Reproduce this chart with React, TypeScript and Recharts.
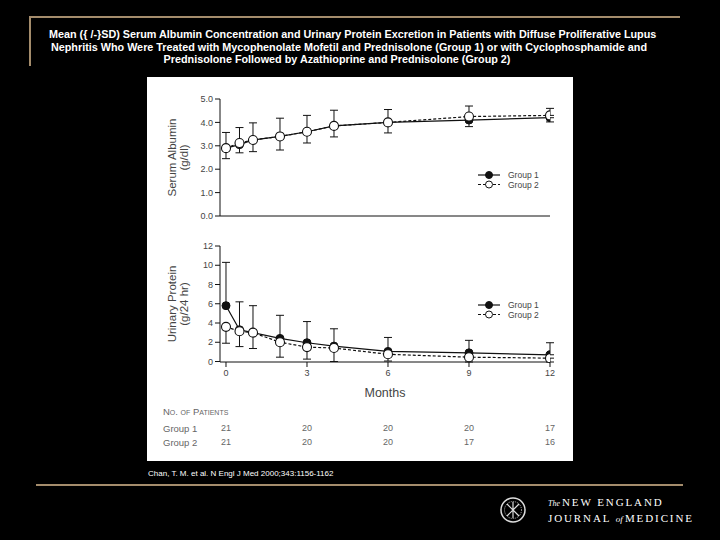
import { LineChart, Line, XAxis, YAxis, ErrorBar, Legend, Label } from 'recharts';

const months = [0, 0.5, 1, 2, 3, 4, 6, 9, 12];
const monthTicks = [0, 3, 6, 9, 12];

// serum albumin, g/dl
const albuminGroup1 = [2.9, 3.05, 3.25, 3.4, 3.6, 3.85, 4.0, 4.1, 4.2];
const albuminGroup2 = [2.9, 3.12, 3.25, 3.4, 3.6, 3.85, 4.0, 4.25, 4.3];
const albuminSdGroup1 = [0.45, 0.35, 0.5, 0.58, 0.48, 0.47, 0.45, 0.28, 0.18]; // drawn down
const albuminSdGroup2 = [0.67, 0.66, 0.73, 0.78, 0.7, 0.67, 0.55, 0.45, 0.3]; // drawn up

// urinary protein, g/24 hr
const proteinGroup1 = [5.8, 3.3, 3.0, 2.4, 1.95, 1.6, 1.05, 0.9, 0.7];
const proteinGroup2 = [3.6, 3.15, 3.0, 2.0, 1.5, 1.4, 0.75, 0.45, 0.35];
const proteinSdGroup1 = [4.5, 2.9, 2.8, 2.4, 2.2, 1.8, 1.45, 1.3, 1.25]; // drawn up
const proteinSdGroup2 = [1.7, 1.6, 1.65, 1.55, 1.25, 1.4, 0.7, 0.5, 0.4]; // drawn down

const patientsGroup1 = [21, 20, 20, 20, 17];
const patientsGroup2 = [21, 20, 20, 17, 16];

const albuminTicks = [0, 1, 2, 3, 4, 5];
const proteinTicks = [0, 2, 4, 6, 8, 10, 12];

const titleLines = [
  'Mean ({ /-}SD) Serum Albumin Concentration and Urinary Protein Excretion in Patients with Diffuse Proliferative Lupus',
  'Nephritis Who Were Treated with Mycophenolate Mofetil and Prednisolone (Group 1) or with Cyclophosphamide and',
  'Prednisolone Followed by Azathioprine and Prednisolone (Group 2)',
];
const citation = 'Chan, T. M. et al. N Engl J Med 2000;343:1156-1162';

const albuminData = months.map((m, i) => ({
  month: m,
  g1: albuminGroup1[i],
  g2: albuminGroup2[i],
  e1: [albuminSdGroup1[i], 0],
  e2: [0, albuminSdGroup2[i]],
}));

const proteinData = months.map((m, i) => ({
  month: m,
  g1: proteinGroup1[i],
  g2: proteinGroup2[i],
  e1: [0, proteinSdGroup1[i]],
  e2: [proteinSdGroup2[i], 0],
}));

const INK = '#111';
const GREY = '#444';
const TAN = '#a48c6c';
const FONT = '"Liberation Sans", Arial, Helvetica, sans-serif';
const SERIF = '"Liberation Serif", "Times New Roman", serif';
const X_DOMAIN: [number, number] = [-0.222, 12];

const renderLegend = (props: any) => {
  const payload = props.payload || [];
  return (
    <svg width={95} height={22} style={{ display: 'block' }}>
      {payload.map((entry: any, i: number) => {
        const y = 6 + i * 9.5;
        const open = i === 1;
        return (
          <g key={entry.value}>
            <line x1={3} x2={25} y1={y} y2={y} stroke={INK} strokeWidth={1.2} strokeDasharray={open ? '3 2' : undefined} />
            <circle cx={14} cy={y} r={3.5} fill={open ? '#fff' : INK} stroke={INK} strokeWidth={1} />
            <text x={33} y={y} dominantBaseline="central" fontSize={8.5} fontFamily={FONT} fill={GREY}>
              {entry.value}
            </text>
          </g>
        );
      })}
    </svg>
  );
};

const yTitle = (lines: string[]) => (props: any) => {
  const vb = props.viewBox;
  const cy = vb.y + vb.height / 2;
  return (
    <g>
      {lines.map((t, i) => {
        const x = vb.x - 8 + i * 12;
        return (
          <text
            key={t}
            x={x}
            y={cy}
            transform={`rotate(-90, ${x}, ${cy})`}
            textAnchor="middle"
            dominantBaseline="central"
            fontSize={11.5}
            fontFamily={FONT}
            fill={GREY}
          >
            {t}
          </text>
        );
      })}
    </g>
  );
};

const monthsTitle = (props: any) => {
  const vb = props.viewBox;
  return (
    <text x={vb.x + vb.width / 2} y={vb.y + 31} textAnchor="middle" dominantBaseline="central" fontSize={12.5} fontFamily={FONT} fill={GREY}>
      Months
    </text>
  );
};

const rowLabel = (name: string, heading?: string) => (props: any) => {
  const vb = props.viewBox;
  return (
    <g>
      {heading && (
        <text x={vb.x - 57} y={vb.y - 9.5} dominantBaseline="central" fontSize={9.5} fontFamily={FONT} fill="#666" style={{ fontVariant: 'small-caps' }}>
          {heading}
        </text>
      )}
      <text x={vb.x - 57} y={vb.y + 7} dominantBaseline="central" fontSize={9.5} fontFamily={FONT} fill="#666">
        {name}
      </text>
    </g>
  );
};

const countTick = (counts: number[]) => (props: any) => {
  const idx = monthTicks.indexOf(props.payload.value);
  return (
    <text x={props.x} y={props.y + 7} textAnchor="middle" dominantBaseline="central" fontSize={9} fontFamily={FONT} fill="#666">
      {idx >= 0 ? counts[idx] : ''}
    </text>
  );
};

const tickStyle = { fontSize: 9, fill: GREY, fontFamily: FONT };

export default function App() {
  return (
    <div style={{ position: 'absolute', left: 0, top: 0, width: 720, height: 540, background: '#000', overflow: 'hidden', fontFamily: FONT }}>
      {/* frame lines */}
      <div style={{ position: 'absolute', left: 29, top: 16, width: 651, height: 2, background: TAN }} />
      <div style={{ position: 'absolute', left: 29, top: 16, width: 2, height: 50, background: TAN }} />
      <div style={{ position: 'absolute', left: 36, top: 484, width: 647, height: 2, background: TAN }} />

      {/* title */}
      {titleLines.map((t, i) => (
        <div
          key={i}
          style={{
            position: 'absolute',
            left: i === 2 ? 37 : 49,
            width: 600,
            top: 28 + i * 12.6,
            lineHeight: '12px',
            textAlign: 'center',
            color: '#fff',
            fontWeight: 'bold',
            fontSize: 10.8,
            whiteSpace: 'nowrap',
          }}
        >
          {t}
        </div>
      ))}

      {/* white panel */}
      <div style={{ position: 'absolute', left: 147, top: 77, width: 426, height: 384, background: '#fff' }} />

      <div style={{ position: 'absolute', left: 147, top: 77 }}>
        <LineChart width={426} height={150} data={albuminData} margin={{ top: 22, right: 23, bottom: 3, left: 33 }}>
          <XAxis
            dataKey="month"
            type="number"
            domain={X_DOMAIN}
            ticks={monthTicks}
            tick={false}
            tickSize={5}
            height={8}
            stroke={INK}
            allowDataOverflow
          />
          <YAxis
            type="number"
            domain={[0, 5]}
            ticks={albuminTicks}
            tickFormatter={(v: number) => v.toFixed(1)}
            tick={tickStyle}
            tickSize={5}
            tickMargin={2}
            width={40}
            stroke={INK}
          >
            <Label content={yTitle(['Serum Albumin', '(g/dl)'])} />
          </YAxis>
          <Line type="linear" dataKey="g1" name="Group 1" stroke={INK} strokeWidth={1.2} dot={{ r: 4, fill: INK, stroke: INK, strokeWidth: 1, strokeDasharray: 'none' }} isAnimationActive={false}>
            <ErrorBar dataKey="e1" direction="y" width={4} stroke={INK} strokeWidth={1} />
          </Line>
          <Line type="linear" dataKey="g2" name="Group 2" stroke={INK} strokeWidth={1.2} strokeDasharray="3 2" dot={{ r: 4.5, fill: '#fff', stroke: INK, strokeWidth: 1.1, strokeDasharray: 'none' }} isAnimationActive={false}>
            <ErrorBar dataKey="e2" direction="y" width={4} stroke={INK} strokeWidth={1} />
          </Line>
          <Legend layout="vertical" align="center" verticalAlign="middle" wrapperStyle={{ left: 328, top: 92, width: 95 }} content={renderLegend} />
        </LineChart>
      </div>

      <div style={{ position: 'absolute', left: 147, top: 230 }}>
        <LineChart width={426} height={225} data={proteinData} margin={{ top: 16, right: 23, bottom: 6, left: 33 }}>
          <XAxis
            dataKey="month"
            type="number"
            domain={X_DOMAIN}
            ticks={monthTicks}
            tick={tickStyle}
            tickSize={5}
            tickMargin={3}
            height={59}
            stroke={INK}
            allowDataOverflow
          >
            <Label content={monthsTitle} />
          </XAxis>
          <XAxis
            xAxisId="n1"
            dataKey="month"
            type="number"
            domain={X_DOMAIN}
            ticks={monthTicks}
            tick={countTick(patientsGroup1)}
            axisLine={false}
            tickLine={false}
            tickSize={0}
            tickMargin={0}
            height={14}
            allowDataOverflow
          >
            <Label content={rowLabel('Group 1', 'No. of Patients')} />
          </XAxis>
          <XAxis
            xAxisId="n2"
            dataKey="month"
            type="number"
            domain={X_DOMAIN}
            ticks={monthTicks}
            tick={countTick(patientsGroup2)}
            axisLine={false}
            tickLine={false}
            tickSize={0}
            tickMargin={0}
            height={14}
            allowDataOverflow
          >
            <Label content={rowLabel('Group 2')} />
          </XAxis>
          <YAxis
            type="number"
            domain={[0, 12]}
            ticks={proteinTicks}
            tick={tickStyle}
            tickSize={5}
            tickMargin={2}
            width={40}
            stroke={INK}
          >
            <Label content={yTitle(['Urinary Protein', '(g/24 hr)'])} />
          </YAxis>
          <Line type="linear" dataKey="g1" name="Group 1" stroke={INK} strokeWidth={1.2} dot={{ r: 4, fill: INK, stroke: INK, strokeWidth: 1, strokeDasharray: 'none' }} isAnimationActive={false}>
            <ErrorBar dataKey="e1" direction="y" width={4} stroke={INK} strokeWidth={1} />
          </Line>
          <Line type="linear" dataKey="g2" name="Group 2" stroke={INK} strokeWidth={1.2} strokeDasharray="3 2" dot={{ r: 4.5, fill: '#fff', stroke: INK, strokeWidth: 1.1, strokeDasharray: 'none' }} isAnimationActive={false}>
            <ErrorBar dataKey="e2" direction="y" width={4} stroke={INK} strokeWidth={1} />
          </Line>
          <Legend layout="vertical" align="center" verticalAlign="middle" wrapperStyle={{ left: 328, top: 69, width: 95 }} content={renderLegend} />
        </LineChart>
      </div>

      {/* citation */}
      <div style={{ position: 'absolute', left: 148, top: 468, fontSize: 8, lineHeight: '11px', color: '#fff', whiteSpace: 'nowrap' }}>
        {citation}
      </div>

      {/* journal mark */}
      <svg style={{ position: 'absolute', left: 495, top: 492 }} width={220} height={40}>
        <circle cx={18} cy={18} r={12} fill="none" stroke="#ddd" strokeWidth={1.5} />
        <circle cx={18} cy={18} r={8.5} fill="none" stroke="#ddd" strokeWidth={0.8} strokeDasharray="1 1" />
        <path d="M12 12 L24 24 M24 12 L12 24 M18 10 L18 26" stroke="#ddd" strokeWidth={1.2} />
        <text x={53} y={14} fontFamily={SERIF} fill="#fff" fontSize={11}>
          <tspan fontStyle="italic" fontSize={8}>The </tspan>
          <tspan letterSpacing={1.9}>NEW ENGLAND</tspan>
        </text>
        <text x={53} y={30} fontFamily={SERIF} fill="#fff" fontSize={11}>
          <tspan letterSpacing={1.9}>JOURNAL </tspan>
          <tspan fontStyle="italic" fontSize={9}>of </tspan>
          <tspan letterSpacing={1.9}>MEDICINE</tspan>
        </text>
      </svg>
    </div>
  );
}
